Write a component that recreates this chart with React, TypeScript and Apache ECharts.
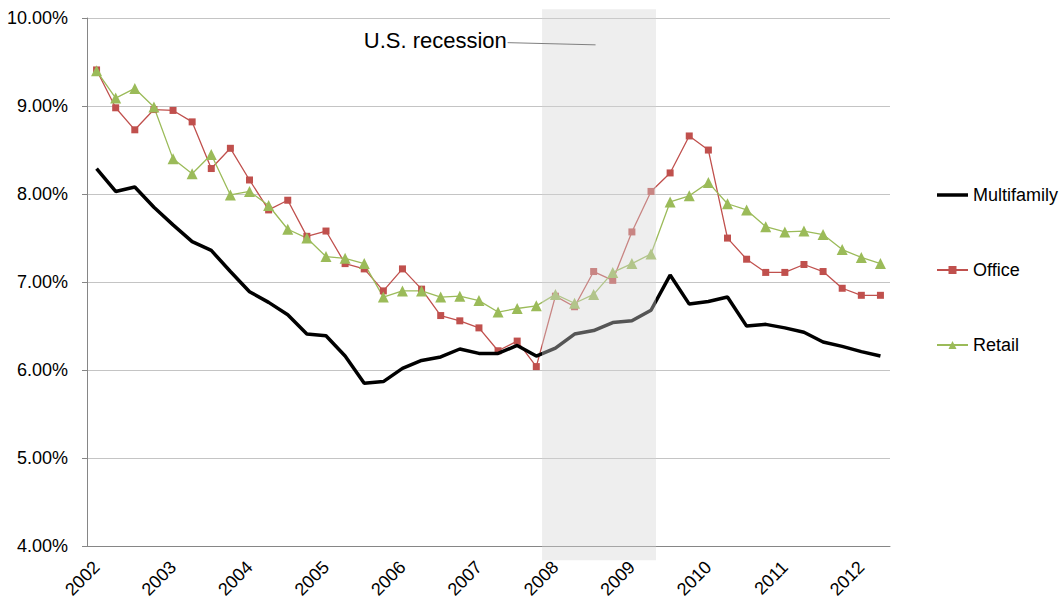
import React, { useEffect, useRef } from 'react';
import * as echarts from 'echarts';

const quarters = [
  '2002 Q1', '2002 Q2', '2002 Q3', '2002 Q4',
  '2003 Q1', '2003 Q2', '2003 Q3', '2003 Q4',
  '2004 Q1', '2004 Q2', '2004 Q3', '2004 Q4',
  '2005 Q1', '2005 Q2', '2005 Q3', '2005 Q4',
  '2006 Q1', '2006 Q2', '2006 Q3', '2006 Q4',
  '2007 Q1', '2007 Q2', '2007 Q3', '2007 Q4',
  '2008 Q1', '2008 Q2', '2008 Q3', '2008 Q4',
  '2009 Q1', '2009 Q2', '2009 Q3', '2009 Q4',
  '2010 Q1', '2010 Q2', '2010 Q3', '2010 Q4',
  '2011 Q1', '2011 Q2', '2011 Q3', '2011 Q4',
  '2012 Q1', '2012 Q2',
];

const multifamily = [
  8.29, 8.03, 8.08, 7.85, 7.65, 7.46, 7.36, 7.12, 6.89, 6.77, 6.63, 6.41, 6.39, 6.16,
  5.85, 5.87, 6.02, 6.11, 6.15, 6.24, 6.19, 6.19, 6.28, 6.16, 6.25, 6.41, 6.45, 6.54,
  6.56, 6.68, 7.08, 6.75, 6.78, 6.83, 6.5, 6.52, 6.48, 6.43, 6.32, 6.27, 6.21, 6.16,
];

const office = [
  9.41, 8.98, 8.73, 8.96, 8.95, 8.82, 8.29, 8.52, 8.16, 7.82, 7.93, 7.52, 7.58, 7.21,
  7.15, 6.9, 7.15, 6.92, 6.62, 6.56, 6.48, 6.22, 6.33, 6.04, 6.84, 6.72, 7.12, 7.02,
  7.57, 8.03, 8.24, 8.66, 8.5, 7.5, 7.26, 7.11, 7.11, 7.2, 7.12, 6.93, 6.85, 6.85,
];

const retail = [
  9.4, 9.09, 9.2, 8.99, 8.4, 8.23, 8.45, 7.99, 8.03, 7.87, 7.6, 7.5, 7.29, 7.27,
  7.21, 6.83, 6.9, 6.9, 6.83, 6.84, 6.79, 6.66, 6.7, 6.73, 6.86, 6.76, 6.86, 7.11,
  7.21, 7.32, 7.91, 7.98, 8.13, 7.89, 7.82, 7.63, 7.57, 7.58, 7.54, 7.37, 7.28, 7.21,
];

// recession band, in category-index units (fractional) and percent
const recessionStart = 23.3;
const recessionEnd = 29.26;
const recessionLabel = 'U.S. recession';

const FONT = '"Liberation Sans", Arial, sans-serif';

export default function App() {
  const ref = useRef<HTMLDivElement>(null);

  useEffect(() => {
    if (!ref.current) return;
    const chart = echarts.init(ref.current, null, { renderer: 'svg' });
    chart.setOption({
      animation: false,
      backgroundColor: '#ffffff',
      textStyle: { fontFamily: FONT },
      grid: { left: 87, right: 173, top: 18, bottom: 52, containLabel: false },
      legend: {
        data: [
          { name: 'Multifamily', icon: 'path://M0,0 L31,0 L31,3.5 L0,3.5 Z' },
          { name: 'Office' },
          { name: 'Retail' },
        ],
        orient: 'vertical',
        left: 936,
        top: 185,
        padding: 0,
        itemWidth: 31,
        itemHeight: 10,
        itemGap: 55,
        textStyle: { fontSize: 18, color: '#000', fontFamily: FONT, lineHeight: 20 },
      },
      xAxis: {
        type: 'category',
        data: quarters,
        boundaryGap: true,
        axisLine: { lineStyle: { color: '#868686', width: 1 } },
        axisTick: { interval: 3, length: 5, lineStyle: { color: '#868686' } },
        axisLabel: {
          interval: 3,
          rotate: 45,
          margin: 18,
          fontSize: 18,
          color: '#000',
          fontFamily: FONT,
          formatter: (v: string) => v.slice(0, 4),
        },
        splitLine: { show: false },
      },
      yAxis: {
        type: 'value',
        min: 4,
        max: 10,
        interval: 1,
        axisLine: { show: true, lineStyle: { color: '#868686', width: 1 } },
        axisTick: { show: true, length: 5, lineStyle: { color: '#868686' } },
        axisLabel: {
          fontSize: 18,
          color: '#000',
          margin: 19,
          fontFamily: FONT,
          formatter: (v: number) => v.toFixed(2) + '%',
        },
        splitLine: { lineStyle: { color: '#c4c4c4', width: 1.2 } },
      },
      series: [
        {
          name: 'Multifamily',
          type: 'line',
          data: multifamily,
          symbol: 'none',
          lineStyle: { color: '#000000', width: 3.5 },
          itemStyle: { color: '#000000' },
          z: 3,
        },
        {
          name: 'Office',
          type: 'line',
          data: office,
          symbol: 'rect',
          symbolSize: 7,
          lineStyle: { color: '#c0504d', width: 1.3 },
          itemStyle: { color: '#c0504d' },
          z: 2,
        },
        {
          name: 'Retail',
          type: 'line',
          data: retail,
          symbol: 'triangle',
          symbolSize: 11,
          lineStyle: { color: '#9bbb59', width: 1.3 },
          itemStyle: { color: '#9bbb59' },
          z: 2,
        },
      ],
    });

    const a = chart.convertToPixel({ xAxisIndex: 0 }, 0) as number;
    const b = chart.convertToPixel({ xAxisIndex: 0 }, 1) as number;
    const px = (i: number) => a + (b - a) * i;
    const py = (v: number) => chart.convertToPixel({ yAxisIndex: 0 }, v) as number;

    const x1 = px(recessionStart);
    const x2 = px(recessionEnd);
    const yTop = py(10.1);
    const yBot = py(3.84);

    chart.setOption({
      graphic: [
        {
          type: 'rect',
          z: 100,
          silent: true,
          shape: { x: x1, y: yTop, width: x2 - x1, height: yBot - yTop },
          style: { fill: 'rgba(212,212,212,0.4)' },
        },
        {
          type: 'line',
          z: 101,
          silent: true,
          shape: { x1: px(21.5), y1: py(9.72), x2: px(26.1), y2: py(9.695) },
          style: { stroke: '#7f7f7f', lineWidth: 1 },
        },
        {
          type: 'text',
          z: 101,
          silent: true,
          x: px(21.46),
          y: py(9.75),
          style: {
            text: recessionLabel,
            fontSize: 22,
            fontFamily: FONT,
            fill: '#000',
            align: 'right',
            verticalAlign: 'middle',
          },
        },
      ],
    });

    return () => chart.dispose();
  }, []);

  return (
    <div
      ref={ref}
      style={{ position: 'fixed', left: 0, top: 0, width: 1063, height: 601 }}
    />
  );
}
